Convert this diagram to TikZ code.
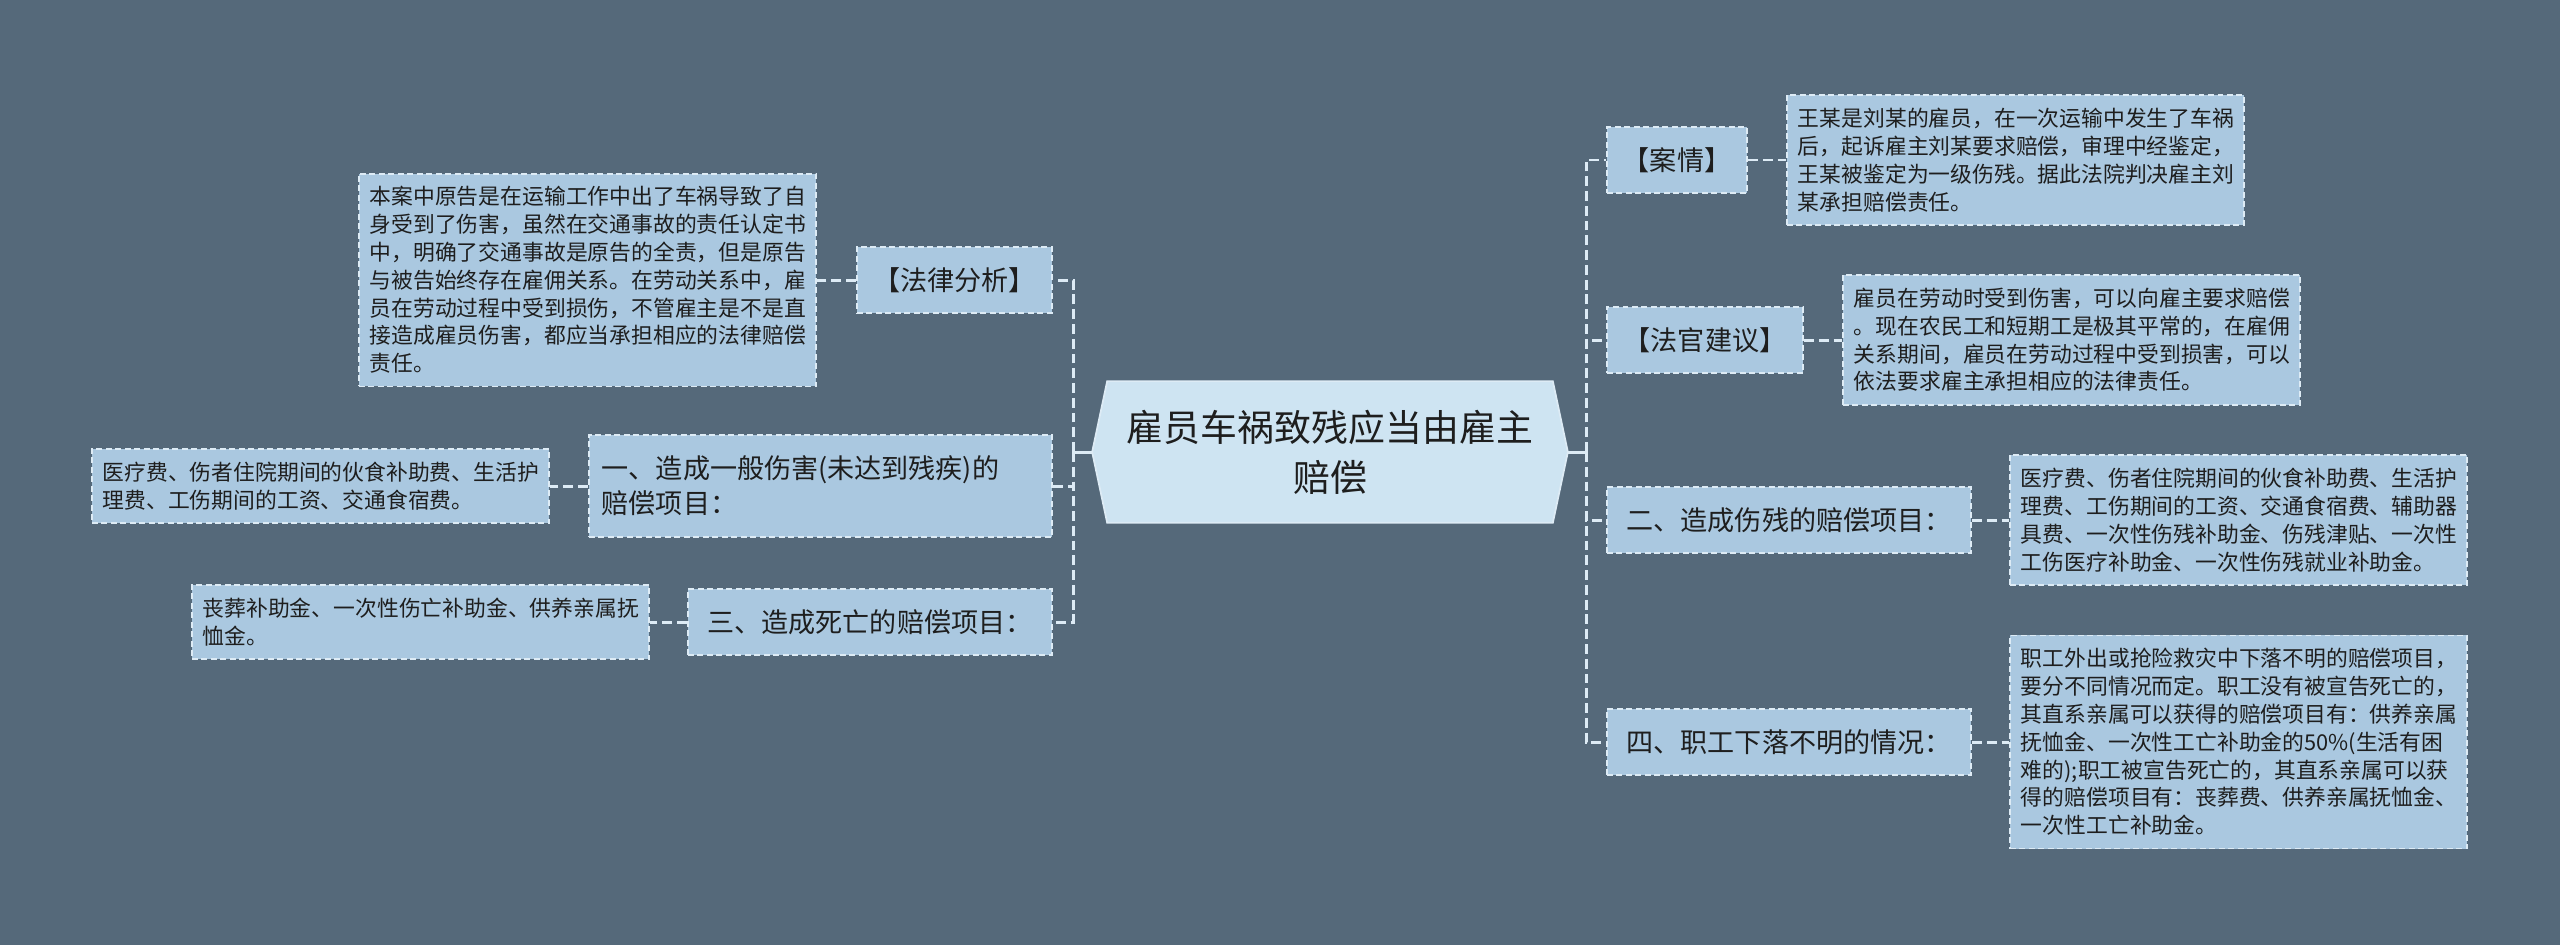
\documentclass[tikz,border=0pt]{standalone}
\usepackage{fontspec}
\setmainfont{Noto Sans CJK SC}
\usetikzlibrary{backgrounds}
\definecolor{bgCol}{HTML}{55697A}
\definecolor{rootCol}{HTML}{CEE4F2}
\definecolor{topicCol}{HTML}{AAC8E0}
\definecolor{lineCol}{HTML}{DDEBF5}
\definecolor{txtCol}{HTML}{1E1E1E}
\tikzset{
  root/.style={minimum width=4.74cm, minimum height=1.40cm, inner sep=0pt, align=center,
               font=\fontsize{10.5pt}{14.2pt}\selectfont, text=txtCol},
  rootshape/.style={fill=rootCol, draw=lineCol, line width=0.5pt},
  topic/.style={draw=lineCol, dash pattern=on 1.7pt off 1pt, line width=0.55pt, fill=topicCol,
                inner xsep=0.13cm, inner ysep=0pt, minimum height=0.66cm, align=left,
                font=\fontsize{7.7pt}{10pt}\selectfont, text=txtCol},
  leaf/.style={draw=lineCol, dash pattern=on 1.7pt off 1pt, line width=0.55pt, fill=topicCol,
               text width=4.35cm, inner xsep=0.11cm, inner ysep=0.13cm, align=left,
               font=\fontsize{6.2pt}{7.9pt}\selectfont, text=txtCol},
  stem/.style={lineCol, line width=0.85pt},
  link/.style={lineCol, line width=0.85pt, dash pattern=on 2.8pt off 1.4pt},
}

\begin{document}
\begin{tikzpicture}[x=0.01cm, y=-0.01cm]
  \useasboundingbox (0,0) rectangle (2560,945);

  % centre
  \node[root] (root) at (1330,452) {雇员车祸致残应当由雇主\\赔偿};
  \coordinate (lj) at (1073,452);
  \coordinate (rj) at (1586,452);

  % left branches
  \node[topic, anchor=east, minimum width=1.95cm] (lawana) at (1053,280) {【法律分析】};
  \node[topic, anchor=east, text width=4.37cm, minimum height=1.02cm] (gen) at (1053,486)
    {一、造成一般伤害(未达到残疾)的\\赔偿项目：};
  \node[topic, anchor=east, minimum width=3.64cm] (death) at (1053,622) {三、造成死亡的赔偿项目：};

  \node[leaf, anchor=east] (lawanad) at (817,280)
    {本案中原告是在运输工作中出了车祸导致了自\\身受到了伤害，虽然在交通事故的责任认定书\\中，明确了交通事故是原告的全责，但是原告\\与被告始终存在雇佣关系。在劳动关系中，雇\\员在劳动过程中受到损伤，不管雇主是不是直\\接造成雇员伤害，都应当承担相应的法律赔偿\\责任。};
  \node[leaf, anchor=east] (gend) at (550,486)
    {医疗费、伤者住院期间的伙食补助费、生活护\\理费、工伤期间的工资、交通食宿费。};
  \node[leaf, anchor=east] (deathd) at (650,622)
    {丧葬补助金、一次性伤亡补助金、供养亲属抚\\恤金。};

  % right branches
  \node[topic, anchor=west, minimum width=1.40cm] (case) at (1606,160) {【案情】};
  \node[topic, anchor=west, minimum width=1.96cm] (judge) at (1606,340) {【法官建议】};
  \node[topic, anchor=west, minimum width=3.64cm] (disab) at (1606,520) {二、造成伤残的赔偿项目：};
  \node[topic, anchor=west, minimum width=3.64cm] (missing) at (1606,742) {四、职工下落不明的情况：};

  \node[leaf, anchor=west] (cased) at (1786,160)
    {王某是刘某的雇员，在一次运输中发生了车祸\\后，起诉雇主刘某要求赔偿，审理中经鉴定，\\王某被鉴定为一级伤残。据此法院判决雇主刘\\某承担赔偿责任。};
  \node[leaf, anchor=west] (judged) at (1842,340)
    {雇员在劳动时受到伤害，可以向雇主要求赔偿\\。现在农民工和短期工是极其平常的，在雇佣\\关系期间，雇员在劳动过程中受到损害，可以\\依法要求雇主承担相应的法律责任。};
  \node[leaf, anchor=west] (disabd) at (2009,520)
    {医疗费、伤者住院期间的伙食补助费、生活护\\理费、工伤期间的工资、交通食宿费、辅助器\\具费、一次性伤残补助金、伤残津贴、一次性\\工伤医疗补助金、一次性伤残就业补助金。};
  \node[leaf, anchor=west] (missingd) at (2009,742)
    {职工外出或抢险救灾中下落不明的赔偿项目，\\要分不同情况而定。职工没有被宣告死亡的，\\其直系亲属可以获得的赔偿项目有：供养亲属\\抚恤金、一次性工亡补助金的50\%(生活有困\\难的);职工被宣告死亡的，其直系亲属可以获\\得的赔偿项目有：丧葬费、供养亲属抚恤金、\\一次性工亡补助金。};

  % connectors
  \draw[stem] (root.west) -- (lj);
  \draw[stem] (root.east) -- (rj);
  \foreach \t in {lawana,gen,death} {\draw[link] (lj) |- (\t.east);}
  \foreach \t in {case,judge,disab,missing} {\draw[link] (rj) |- (\t.west);}
  \foreach \t in {lawana,gen,death} {\draw[link] (\t.west) -- (\t d.east);}
  \foreach \t in {case,judge,disab,missing} {\draw[link] (\t.east) -- (\t d.west);}

  \begin{scope}[on background layer]
    \fill[bgCol] (0,0) rectangle (2560,945);
    \filldraw[rootshape] ([xshift=0.15cm]root.north west) -- ([xshift=-0.15cm]root.north east)
      -- (root.east) -- ([xshift=-0.15cm]root.south east) -- ([xshift=0.15cm]root.south west)
      -- (root.west) -- cycle;
  \end{scope}
\end{tikzpicture}
\end{document}
